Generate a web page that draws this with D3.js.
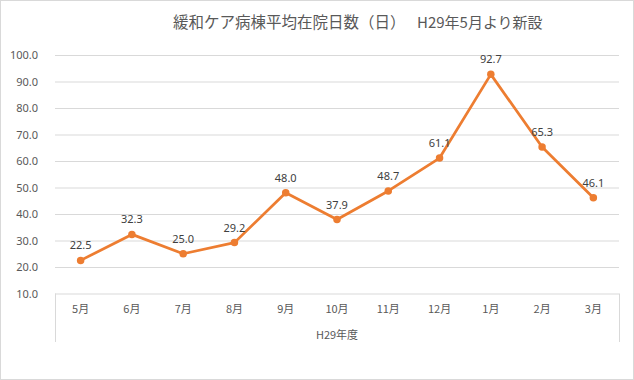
<!DOCTYPE html>
<html><head><meta charset="utf-8">
<script src="https://cdn.jsdelivr.net/npm/d3@7"></script>
<style>body{margin:0;background:#fff}text{font-family:"Noto Sans CJK JP","Noto Sans",sans-serif}</style>
</head><body>
<svg id="c" width="634" height="380"></svg>
<script>
const categories = ["5月","6月","7月","8月","9月","10月","11月","12月","1月","2月","3月"];
const values = [22.5,32.3,25.0,29.2,48.0,37.9,48.7,61.1,92.7,65.3,46.1];
const yTicks = [10,20,30,40,50,60,70,80,90,100];
const groupLabel = "H29年度";
const titleMain = "緩和ケア病棟平均在院日数（日）";
const titleSub = "H29年5月より新設";

const svg = d3.select("#c");
svg.append("rect").attr("x",0.5).attr("y",0.5).attr("width",633).attr("height",379)
  .attr("fill","#fff").attr("stroke","#d9d9d9");

const L=55, R=619, T=55, B=293.5;
const x = d3.scaleBand().domain(categories).range([L,R]);
const y = d3.scaleLinear().domain([10,100]).range([B,T]);

// gridlines
svg.append("g").selectAll("line").data(yTicks.filter(d=>d>10)).join("line")
  .attr("x1",L).attr("x2",R).attr("y1",d=>y(d)+0.5).attr("y2",d=>y(d)+0.5)
  .attr("stroke","#d9d9d9").attr("stroke-width",1);

// y axis labels
const ya = svg.append("g").attr("transform",`translate(${L-14},0)`)
  .call(d3.axisLeft(y).tickValues(yTicks).tickFormat(d3.format(".1f")).tickSize(0));
ya.select(".domain").remove();
ya.selectAll("text").attr("fill","#595959").style("font-size","11px").attr("dy","0.35em")
  .style("font-family","'Noto Sans','Noto Sans CJK JP',sans-serif");

// x axis box
const xb = svg.append("g").attr("stroke","#d9d9d9").attr("fill","none");
xb.append("line").attr("x1",L).attr("x2",R).attr("y1",B+0.5).attr("y2",B+0.5);
xb.append("line").attr("x1",L+0.5).attr("x2",L+0.5).attr("y1",B).attr("y2",342);
xb.append("line").attr("x1",R+0.5).attr("x2",R+0.5).attr("y1",B).attr("y2",342);

const xa = svg.append("g").attr("transform",`translate(0,${B})`)
  .call(d3.axisBottom(x).tickSize(0));
xa.select(".domain").remove();
xa.selectAll("text").attr("fill","#595959").style("font-size","11px").attr("dy","0").attr("y",19);

svg.append("text").attr("x",(L+R)/2).attr("y",339).attr("text-anchor","middle")
  .attr("fill","#595959").style("font-size","11px").text(groupLabel);

// line
const line = d3.line().x((d,i)=>x(categories[i])+x.bandwidth()/2).y(d=>y(d));
svg.append("path").datum(values).attr("d",line).attr("fill","none")
  .attr("stroke","#ED7D31").attr("stroke-width",2.75).attr("stroke-linejoin","round");
svg.append("g").selectAll("circle").data(values).join("circle")
  .attr("cx",(d,i)=>x(categories[i])+x.bandwidth()/2).attr("cy",d=>y(d)).attr("r",3.75)
  .attr("fill","#ED7D31");
svg.append("g").selectAll("text").data(values).join("text")
  .attr("x",(d,i)=>x(categories[i])+x.bandwidth()/2).attr("y",d=>y(d)-11)
  .attr("text-anchor","middle").attr("fill","#404040").style("font-size","11px")
  .style("font-family","'Noto Sans','Noto Sans CJK JP',sans-serif")
  .text(d=>d3.format(".1f")(d));

// title
const t = svg.append("text").attr("y",28).attr("fill","#595959");
t.append("tspan").attr("x",173).style("font-size","15.5px").text(titleMain);
t.append("tspan").attr("x",417).style("font-size","15px").text(titleSub);
</script>
</body></html>
